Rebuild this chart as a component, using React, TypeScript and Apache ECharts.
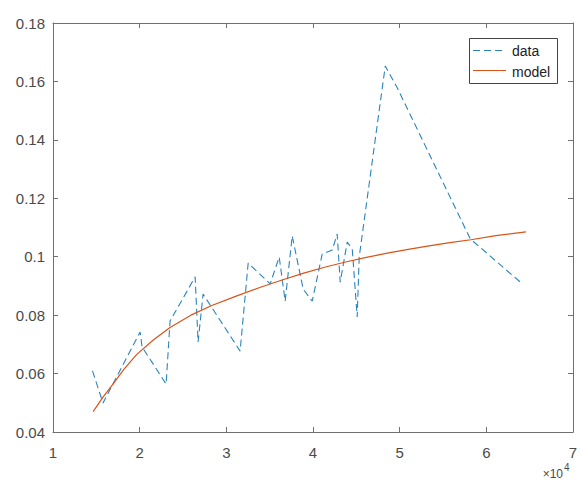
import React, { useEffect, useRef } from 'react';
import * as echarts from 'echarts';

// x values are in units of 10^4
const dataX = [1.456, 1.577, 2.005, 2.028, 2.305, 2.351, 2.640, 2.674, 2.732, 3.159, 3.252, 3.506, 3.610, 3.679, 3.760, 3.887, 3.991, 4.106, 4.222, 4.279, 4.314, 4.395, 4.453, 4.510, 4.533, 4.834, 4.972, 5.815, 6.416];
const dataY = [0.0609, 0.0499, 0.0742, 0.0691, 0.0564, 0.0780, 0.0931, 0.0708, 0.0872, 0.0677, 0.0978, 0.0907, 0.0999, 0.0848, 0.1071, 0.0889, 0.0848, 0.1009, 0.1023, 0.1078, 0.0913, 0.1050, 0.1026, 0.0794, 0.0999, 0.1653, 0.1578, 0.1061, 0.0907];

const modelX = [1.463, 1.579, 1.694, 1.820, 1.964, 2.157, 2.350, 2.591, 2.832, 3.121, 3.411, 3.652, 3.893, 4.134, 4.375, 4.616, 4.857, 5.098, 5.339, 5.580, 5.821, 6.111, 6.457];
const modelY = [0.0470, 0.0520, 0.0565, 0.0615, 0.0665, 0.0715, 0.0758, 0.0800, 0.0833, 0.0866, 0.0897, 0.0921, 0.0944, 0.0964, 0.0982, 0.0998, 0.1012, 0.1025, 0.1037, 0.1048, 0.1058, 0.1072, 0.1085];

const seriesNames = ['data', 'model'];
const xMin = 1, xMax = 7, xStep = 1;
const yMin = 0.04, yMax = 0.18, yStep = 0.02;
const exponentLabel = '×10';
const exponentPower = '4';

const FONT = 'Liberation Sans, Arial, Helvetica, sans-serif';
const AXIS_COLOR = '#707070';
const LABEL_COLOR = '#4a4a4a';
const DATA_COLOR = '#2a84bb';
const MODEL_COLOR = '#D95319';
const DASH = [7, 4];

export default function App() {
  const ref = useRef<HTMLDivElement>(null);
  useEffect(() => {
    if (!ref.current) return;
    const chart = echarts.init(ref.current, undefined, { renderer: 'svg' });
    const fmtY = (v: number) => String(+v.toFixed(2));
    const axisCommon = {
      axisLine: { show: true, lineStyle: { color: AXIS_COLOR, width: 1 } },
      axisTick: { show: true, inside: true, length: 5, lineStyle: { color: AXIS_COLOR } },
      splitLine: { show: false },
    };
    chart.setOption({
      animation: false,
      backgroundColor: '#ffffff',
      grid: { left: 53, right: 8, top: 23, bottom: 51, containLabel: false },
      xAxis: [
        {
          type: 'value', min: xMin, max: xMax, interval: xStep, position: 'bottom',
          ...axisCommon,
          axisLabel: { color: LABEL_COLOR, fontSize: 15, fontFamily: FONT, margin: 13 },
        },
        {
          type: 'value', min: xMin, max: xMax, interval: xStep, position: 'top',
          ...axisCommon,
          axisLabel: { show: false },
        },
      ],
      yAxis: [
        {
          type: 'value', min: yMin, max: yMax, interval: yStep, position: 'left',
          ...axisCommon,
          axisLabel: { color: LABEL_COLOR, fontSize: 15, fontFamily: FONT, margin: 8, formatter: fmtY },
        },
        {
          type: 'value', min: yMin, max: yMax, interval: yStep, position: 'right',
          ...axisCommon,
          axisLabel: { show: false },
        },
      ],
      graphic: [
        {
          type: 'group',
          z: 10,
          children: [
            {
              type: 'rect',
              shape: { x: 469.5, y: 38.5, width: 88, height: 45 },
              style: { fill: '#ffffff', stroke: '#444444', lineWidth: 1 },
            },
            {
              type: 'line',
              shape: { x1: 473, y1: 50.5, x2: 504, y2: 50.5 },
              style: { stroke: DATA_COLOR, lineWidth: 1.1, lineDash: DASH },
            },
            {
              type: 'text',
              x: 512,
              y: 51,
              style: { text: seriesNames[0], fontSize: 14, fontFamily: FONT, fill: '#222', align: 'left', verticalAlign: 'middle' },
            },
            {
              type: 'line',
              shape: { x1: 473, y1: 70.5, x2: 506, y2: 70.5 },
              style: { stroke: MODEL_COLOR, lineWidth: 1.2 },
            },
            {
              type: 'text',
              x: 512,
              y: 71.5,
              style: { text: seriesNames[1], fontSize: 14, fontFamily: FONT, fill: '#222', align: 'left', verticalAlign: 'middle' },
            },
          ],
        },
        {
          type: 'text',
          x: 563,
          y: 474,
          style: { text: exponentLabel, fontSize: 12, fontFamily: FONT, fill: LABEL_COLOR, align: 'right', verticalAlign: 'middle' },
        },
        {
          type: 'text',
          x: 564,
          y: 467,
          style: { text: exponentPower, fontSize: 10, fontFamily: FONT, fill: LABEL_COLOR, align: 'left', verticalAlign: 'middle' },
        },
      ],
      series: [
        {
          name: seriesNames[0],
          type: 'line',
          data: dataX.map((x, i) => [x, dataY[i]]),
          symbol: 'none',
          lineStyle: { color: DATA_COLOR, width: 1.1, type: DASH },
          itemStyle: { color: DATA_COLOR },
        },
        {
          name: seriesNames[1],
          type: 'line',
          data: modelX.map((x, i) => [x, modelY[i]]),
          symbol: 'none',
          lineStyle: { color: MODEL_COLOR, width: 1.2 },
          itemStyle: { color: MODEL_COLOR },
        },
      ],
    });
    return () => chart.dispose();
  }, []);
  return <div ref={ref} style={{ position: 'fixed', left: 0, top: 0, width: 581, height: 483 }} />;
}
